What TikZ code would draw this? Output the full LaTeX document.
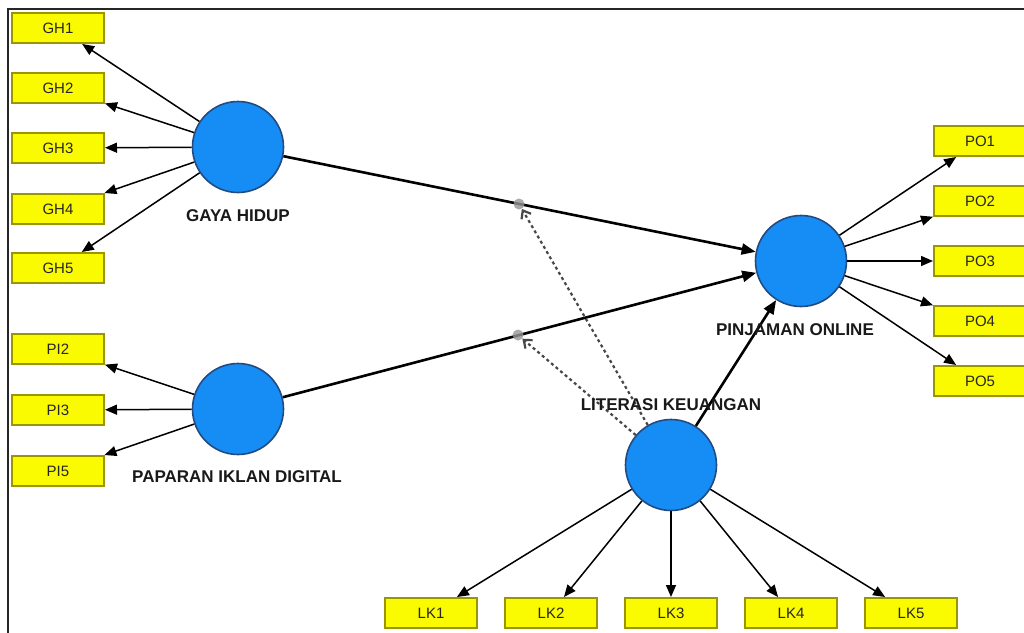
\documentclass[tikz,border=0pt]{standalone}
\usepackage{fontspec}
\setmainfont{Liberation Sans}
\usetikzlibrary{arrows.meta}
\definecolor{boxyellow}{RGB}{250,250,0}
\definecolor{boxedge}{RGB}{155,150,0}
\definecolor{lvblue}{RGB}{22,140,245}
\definecolor{lvedge}{RGB}{35,75,130}
\definecolor{dotgray}{RGB}{150,150,150}
\begin{document}
\begin{tikzpicture}[x=1pt,y=-1pt,
 ind/.style={draw=boxedge, line width=2pt, fill=boxyellow, minimum width=92pt, minimum height=30pt, inner sep=0pt, font=\fontsize{15}{17}\selectfont, text=black!85},
 lv/.style={circle, draw=lvedge, line width=1.6pt, fill=lvblue, minimum size=91pt, inner sep=0pt},
 lvlabel/.style={font=\fontsize{17}{19}\selectfont\bfseries, text=black!90},
 load/.style={line width=1.5pt, -{Triangle[length=12pt,width=10pt]}},
 pathc/.style={line width=2.6pt, -{Triangle[length=14pt,width=11pt]}},
 modc/.style={line width=2.2pt, dash pattern=on 3pt off 3pt, draw=black!72, -{Straight Barb[length=7pt,width=11pt]}},
 moddot/.style={circle, fill=dotgray, inner sep=0pt, minimum size=11pt, opacity=0.8}
]
\useasboundingbox (0,0) rectangle (1024,632);
\clip (0,0) rectangle (1024,632);
\fill[white] (0,0) rectangle (1024,632);
\draw[line width=2.2pt, black!85] (8,640) -- (8,9) -- (1030,9);

% latent variables
\node[lv] (gh) at (238,147) {};
\node[lv] (pi) at (238,409) {};
\node[lv] (po) at (801,261) {};
\node[lv] (lk) at (671,465) {};

% indicators
\node[ind] (gh1) at (58,28) {GH1};
\node[ind] (gh2) at (58,88) {GH2};
\node[ind] (gh3) at (58,148) {GH3};
\node[ind] (gh4) at (58,209) {GH4};
\node[ind] (gh5) at (58,268) {GH5};
\node[ind] (pi2) at (58,349) {PI2};
\node[ind] (pi3) at (58,410) {PI3};
\node[ind] (pi5) at (58,471) {PI5};
\node[ind] (po1) at (980,141) {PO1};
\node[ind] (po2) at (980,201) {PO2};
\node[ind] (po3) at (980,261) {PO3};
\node[ind] (po4) at (980,321) {PO4};
\node[ind] (po5) at (980,381) {PO5};
\node[ind] (lk1) at (431,613) {LK1};
\node[ind] (lk2) at (551,613) {LK2};
\node[ind] (lk3) at (671,613) {LK3};
\node[ind] (lk4) at (791,613) {LK4};
\node[ind] (lk5) at (911,613) {LK5};

% loadings
\foreach \i in {gh1,gh2,gh3,gh4,gh5} \draw[load] (gh) -- (\i);
\foreach \i in {pi2,pi3,pi5} \draw[load] (pi) -- (\i);
\foreach \i in {po1,po2,po3,po4,po5} \draw[load] (po) -- (\i);
\foreach \i in {lk1,lk2,lk3,lk4,lk5} \draw[load] (lk) -- (\i);

% structural paths
\draw[pathc] (gh) -- (po);
\draw[pathc] (pi) -- (po);
\draw[pathc] (lk) -- (po);

% moderation
\node[moddot] (m1) at (519,204) {};
\node[moddot] (m2) at (518,335) {};
\draw[modc] (lk) -- (m1);
\draw[modc] (lk) -- (m2);

% labels
\node[lvlabel] (lgh) at (238,216) {GAYA HIDUP};
\node[lvlabel] (lpi) at (237,477) {PAPARAN IKLAN DIGITAL};
\node[lvlabel] (lpo) at (795,330) {PINJAMAN ONLINE};
\node[lvlabel] (llk) at (671,405) {LITERASI KEUANGAN};
\end{tikzpicture}
\end{document}
